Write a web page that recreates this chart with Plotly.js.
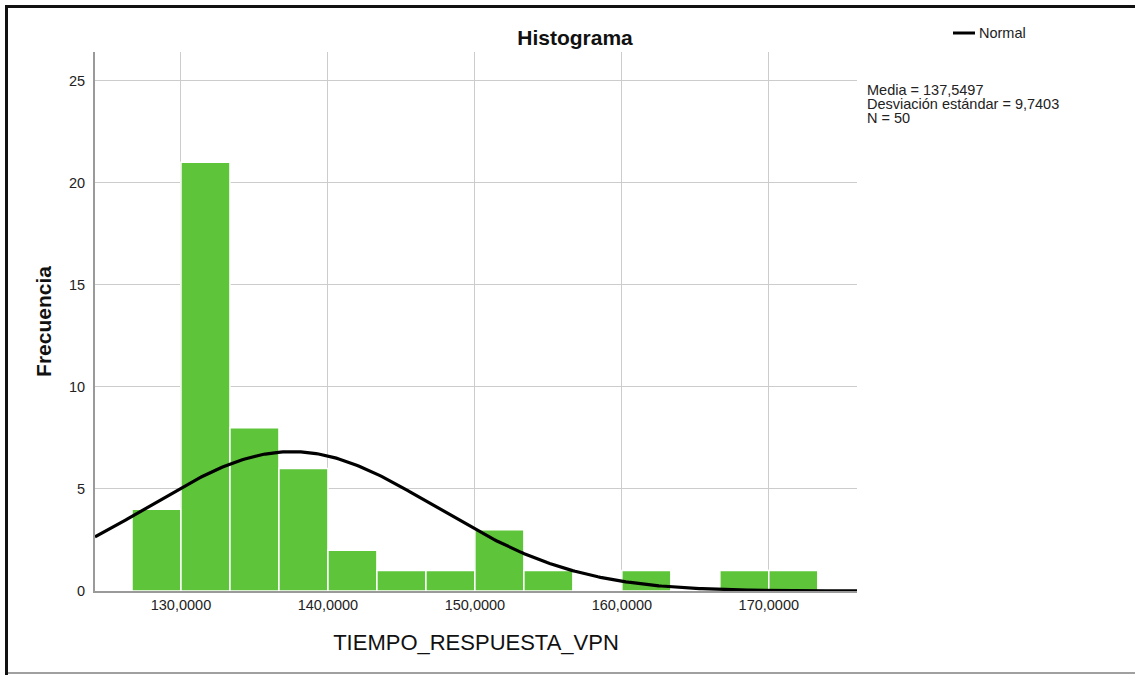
<!DOCTYPE html>
<html>
<head>
<meta charset="utf-8">
<script src="https://cdn.plot.ly/plotly-3.0.1.min.js"></script>
<style>
html,body{margin:0;padding:0;background:#fff;}
#wrap{position:relative;width:1135px;height:675px;overflow:hidden;}
#chart{position:absolute;left:0;top:0;width:1135px;height:675px;}
.fr{position:absolute;pointer-events:none;}
</style>
</head>
<body>
<div id="wrap">
<div id="chart"></div>
<div class="fr" style="left:5px;top:5px;width:1130px;height:3px;background:#111;"></div>
<div class="fr" style="left:5px;top:5px;width:3px;height:670px;background:#111;"></div>
<div class="fr" style="left:8px;top:672px;width:1127px;height:2px;background:#a0a0a0;"></div>
</div>
<script>
// Histogram data
const binStart = 126.6667;
const binWidth = 40 / 12;
const counts = [4, 21, 8, 6, 2, 1, 1, 3, 1, 0, 1, 0, 1, 1];
// Summary statistics
const mean = 137.5497;
const sd = 9.7403;
const n = 50;
const statLines = ['Media = 137,5497', 'Desviación estándar = 9,7403', 'N = 50'];
const xTicks = [130, 140, 150, 160, 170];
const yTicks = [0, 5, 10, 15, 20, 25];

const centers = counts.map((c, i) => binStart + binWidth * (i + 0.5));

// Normal curve scaled to histogram counts
const xMin = 124.15, xMax = 176.0;
const cx = [], cy = [];
for (let k = 0; k <= 300; k++) {
  const x = xMin + (xMax - xMin) * k / 300;
  const z = (x - mean) / sd;
  cx.push(x);
  cy.push(n * binWidth * Math.exp(-0.5 * z * z) / (sd * Math.sqrt(2 * Math.PI)));
}

const font = "Liberation Sans, Arial, sans-serif";
const fs = 14.5;

const traces = [
  {
    type: 'bar', x: centers, y: counts, width: binWidth,
    marker: {color: '#5ec43a', line: {color: '#ffffff', width: 1.5}},
    hoverinfo: 'x+y', showlegend: false
  },
  {
    type: 'scatter', mode: 'lines', x: cx, y: cy, name: 'Normal',
    line: {color: '#000000', width: 3.2}, showlegend: false, hoverinfo: 'skip'
  }
];

const px2x = px => (px - 95) / 762;
const px2y = py => (591 - py) / 539;

const annotations = [
  {xref: 'paper', yref: 'paper', x: px2x(977), y: px2y(33),
   xanchor: 'left', yanchor: 'middle', showarrow: false,
   text: 'Normal', font: {family: font, size: fs, color: '#222'}}
];
statLines.forEach((t, i) => annotations.push({
  xref: 'paper', yref: 'paper', x: px2x(865), y: px2y(90 + 14 * i),
  xanchor: 'left', yanchor: 'middle', showarrow: false, align: 'left',
  text: t, font: {family: font, size: fs, color: '#222'}
}));

const layout = {
  width: 1135, height: 675,
  margin: {l: 95, r: 278, t: 52, b: 84},
  paper_bgcolor: '#ffffff', plot_bgcolor: '#ffffff',
  separators: ',.',
  font: {family: font, size: fs, color: '#222'},
  bargap: 0,
  xaxis: {
    range: [xMin, xMax], tickvals: xTicks, tickformat: '.4f',
    showgrid: true, gridcolor: '#cccccc', gridwidth: 1,
    zeroline: false, showline: true, linecolor: '#9a9a9a', linewidth: 2,
    ticks: '', ticklen: 0, ticklabelstandoff: 0,
    tickfont: {family: font, size: fs, color: '#222'},
    title: {text: 'TIEMPO_RESPUESTA_VPN', font: {family: font, size: 22, color: '#111'}, standoff: 22}
  },
  yaxis: {
    range: [0, 26.4], tickvals: yTicks,
    showgrid: true, gridcolor: '#cccccc', gridwidth: 1,
    zeroline: false, showline: true, linecolor: '#9a9a9a', linewidth: 2,
    ticks: '', ticklen: 0, ticklabelstandoff: 5,
    tickfont: {family: font, size: fs, color: '#222'},
    title: {text: '<b>Frecuencia</b>', font: {family: font, size: 21, color: '#111'}, standoff: 12}
  },
  title: {
    text: '<b>Histograma</b>', font: {family: font, size: 21, color: '#111'},
    x: 575 / 1135, xanchor: 'center', y: 1 - 38 / 675, yanchor: 'middle'
  },
  shapes: [
    {type: 'line', xref: 'paper', yref: 'paper',
     x0: px2x(953), x1: px2x(975), y0: px2y(33), y1: px2y(33),
     line: {color: '#000', width: 3}}
  ],
  annotations: annotations
};

Plotly.newPlot('chart', traces, layout, {displayModeBar: false, staticPlot: true});
</script>
</body>
</html>
